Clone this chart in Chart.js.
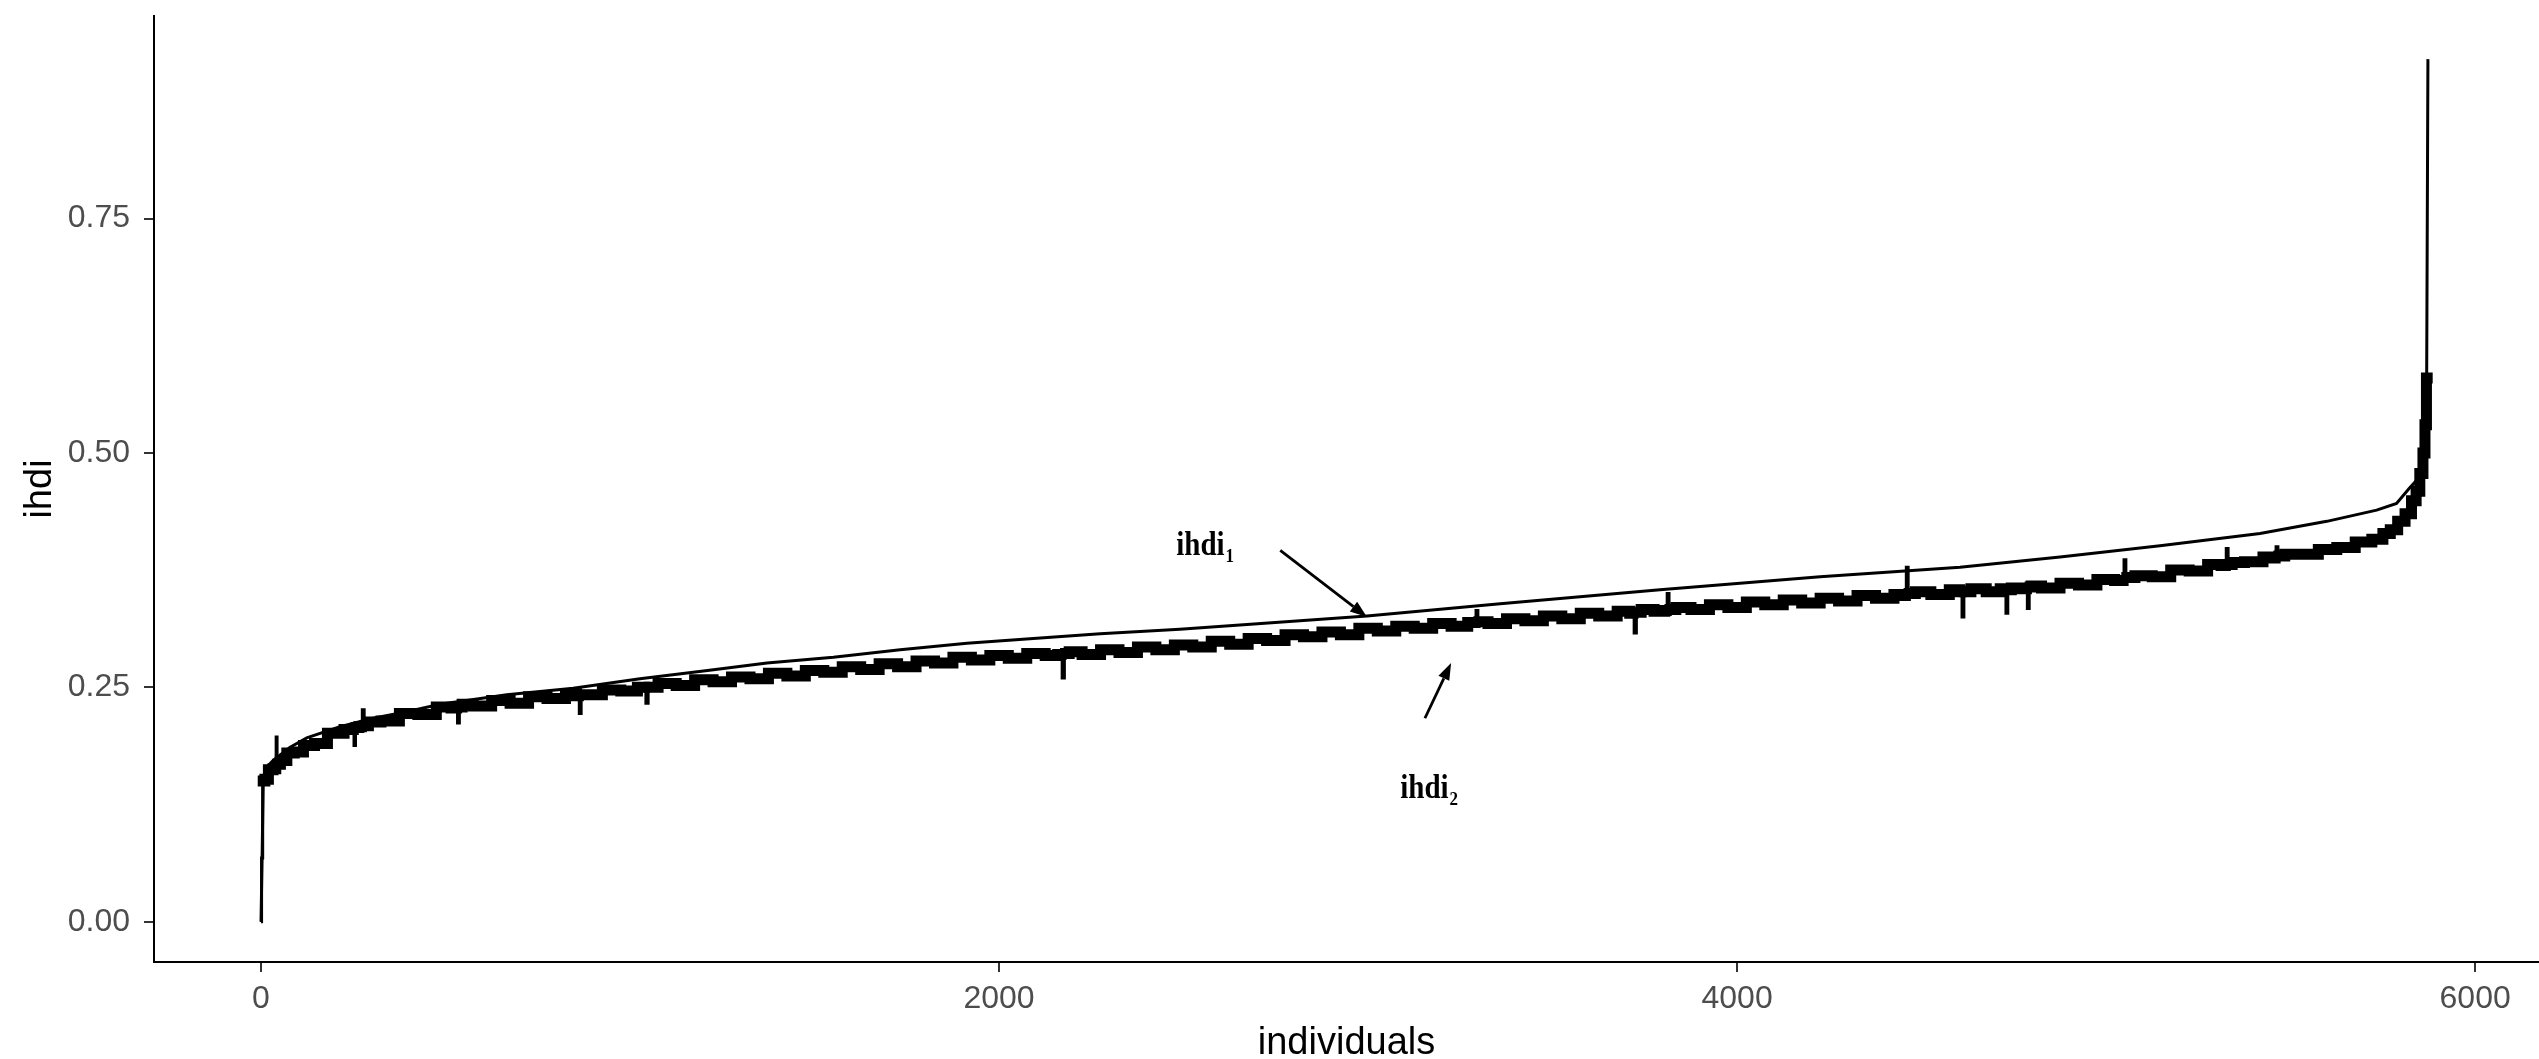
<!DOCTYPE html>
<html>
    <style>
        body {
            background-color: white;
            margin: 0;
            padding: 0;
        }
        #chart_box {
            width: 2539px;
            height: 1059px;
        }
    </style>
    <script src="https://cdn.jsdelivr.net/npm/chart.js"></script>
    <body>
        <div id="chart_box">
            <canvas id="myChart" width="2539" height="1059"></canvas>
        </div>
    </body>
    <script>
        // ihdi_1: upper, smooth curve (individuals sorted)
        const ihdi1X = [0, 3, 6, 16, 33, 79, 124, 214, 304, 395, 485, 666, 846, 1027, 1210,
            1371, 1551, 1732, 1913, 2093, 2274, 2490, 2997, 3358, 3791, 4225, 4604, 4875,
            5146, 5417, 5598, 5733, 5787, 5821, 5842, 5860, 5868, 5872];
        const ihdi1Y = [0.000, 0.070, 0.150, 0.165, 0.172, 0.186, 0.196, 0.208, 0.217, 0.224,
            0.232, 0.242, 0.249, 0.259, 0.268, 0.276, 0.282, 0.290, 0.297, 0.302, 0.307,
            0.312, 0.326, 0.339, 0.354, 0.368, 0.378, 0.389, 0.401, 0.414, 0.427, 0.439,
            0.446, 0.462, 0.471, 0.490, 0.520, 0.920];

        // ihdi_2: lower, noisy band
        const ihdi2X = [0, 3, 6, 15, 25, 40, 42, 45, 60, 80, 100, 130, 160, 200, 250, 254, 258,
            272, 277, 282, 300, 350, 400, 450, 500, 530, 535, 540, 550, 600, 650, 700, 750,
            800, 850, 860, 865, 870, 900, 950, 1000, 1040, 1046, 1052, 1100, 1150, 1200, 1250,
            1300, 1350, 1400, 1450, 1500, 1550, 1600, 1650, 1700, 1750, 1800, 1850, 1900, 1950,
            2000, 2050, 2100, 2150, 2168, 2174, 2180, 2200, 2250, 2300, 2350, 2400, 2450, 2500,
            2550, 2600, 2650, 2700, 2750, 2800, 2850, 2900, 2950, 3000, 3050, 3100, 3150, 3200,
            3250, 3290, 3295, 3300, 3350, 3400, 3450, 3500, 3550, 3600, 3650, 3700, 3718, 3724,
            3730, 3750, 3800, 3808, 3813, 3818, 3850, 3900, 3950, 4000, 4050, 4100, 4150, 4200,
            4250, 4300, 4350, 4400, 4450, 4456, 4461, 4466, 4500, 4550, 4600, 4607, 4612, 4617,
            4650, 4700, 4726, 4731, 4736, 4750, 4784, 4789, 4794, 4800, 4850, 4900, 4950, 5000,
            5046, 5051, 5056, 5100, 5150, 5200, 5250, 5300, 5323, 5328, 5333, 5350, 5400, 5450,
            5458, 5463, 5468, 5500, 5550, 5600, 5650, 5700, 5740, 5760, 5780, 5800, 5820, 5835,
            5845, 5855, 5862, 5866, 5870];
        const ihdi2Y = [0.000, 0.068, 0.150, 0.152, 0.162, 0.163, 0.197, 0.168, 0.172, 0.180,
            0.181, 0.188, 0.190, 0.201, 0.205, 0.188, 0.207, 0.208, 0.226, 0.209, 0.213, 0.214,
            0.222, 0.221, 0.229, 0.228, 0.212, 0.229, 0.232, 0.230, 0.236, 0.233, 0.240, 0.238,
            0.243, 0.241, 0.222, 0.242, 0.242, 0.247, 0.246, 0.250, 0.233, 0.250, 0.254, 0.252,
            0.258, 0.256, 0.261, 0.259, 0.265, 0.262, 0.268, 0.266, 0.272, 0.269, 0.275, 0.272,
            0.278, 0.276, 0.282, 0.279, 0.284, 0.281, 0.286, 0.284, 0.285, 0.260, 0.286, 0.288,
            0.285, 0.290, 0.287, 0.293, 0.290, 0.295, 0.293, 0.299, 0.296, 0.302, 0.300, 0.306,
            0.304, 0.309, 0.306, 0.313, 0.310, 0.315, 0.313, 0.318, 0.315, 0.319, 0.332, 0.320,
            0.318, 0.323, 0.321, 0.326, 0.323, 0.329, 0.326, 0.331, 0.329, 0.308, 0.330, 0.333,
            0.331, 0.332, 0.350, 0.333, 0.335, 0.333, 0.338, 0.335, 0.341, 0.338, 0.343, 0.340,
            0.345, 0.342, 0.348, 0.345, 0.349, 0.348, 0.378, 0.350, 0.352, 0.349, 0.354, 0.352,
            0.325, 0.352, 0.355, 0.352, 0.355, 0.329, 0.354, 0.356, 0.355, 0.334, 0.357, 0.358,
            0.356, 0.361, 0.359, 0.365, 0.364, 0.386, 0.367, 0.369, 0.368, 0.375, 0.374, 0.381,
            0.380, 0.398, 0.381, 0.383, 0.384, 0.389, 0.388, 0.400, 0.390, 0.392, 0.392, 0.397,
            0.399, 0.405, 0.408, 0.414, 0.418, 0.427, 0.435, 0.449, 0.459, 0.478, 0.500, 0.530,
            0.580];

        const xTicks = [0, 2000, 4000, 6000];
        const yTicks = [0, 0.25, 0.5, 0.75];

        // text labels with arrows, anchored in data units
        const notes = [
            { text: 'ihdi', sub: '1', at: [2480, 0.391], from: [2762, 0.396], to: [2997, 0.325] },
            { text: 'ihdi', sub: '2', at: [3087, 0.132], from: [3154, 0.217], to: [3225, 0.276] }
        ];

        function toPoints(xs, ys) {
            return xs.map((x, i) => ({ x: x, y: ys[i] }));
        }

        // a point that sticks out the same way from both neighbours is a single spike, drawn thin
        function isSpike(i) {
            if (i < 1 || i >= ihdi2Y.length - 1) return false;
            const a = ihdi2Y[i] - ihdi2Y[i - 1], b = ihdi2Y[i] - ihdi2Y[i + 1];
            return a * b > 0 && Math.abs(a) > 0.01 && Math.abs(b) > 0.01;
        }
        function thinSeg(ctx) {
            // the first rise from zero is a thin line too
            if (ctx.p0DataIndex < 2) return true;
            return isSpike(ctx.p0DataIndex) || isSpike(ctx.p1DataIndex);
        }

        const notePlugin = {
            id: 'notes',
            afterDatasetsDraw(chart) {
                const ctx = chart.ctx;
                const sx = chart.scales.x, sy = chart.scales.y;
                ctx.save();
                ctx.fillStyle = '#000';
                ctx.strokeStyle = '#000';
                notes.forEach(n => {
                    // label
                    const tx = sx.getPixelForValue(n.at[0]);
                    const ty = sy.getPixelForValue(n.at[1]);
                    ctx.save();
                    ctx.translate(tx, ty);
                    ctx.scale(1, 1.17);
                    ctx.textBaseline = 'alphabetic';
                    ctx.textAlign = 'left';
                    ctx.font = 'bold 29px "Liberation Serif", "Times New Roman", serif';
                    ctx.fillText(n.text, 0, 0);
                    const w = ctx.measureText(n.text).width;
                    ctx.font = 'bold 17px "Liberation Serif", "Times New Roman", serif';
                    ctx.fillText(n.sub, w + 1, 6);
                    ctx.restore();

                    // arrow
                    const x0 = sx.getPixelForValue(n.from[0]), y0 = sy.getPixelForValue(n.from[1]);
                    const x1 = sx.getPixelForValue(n.to[0]), y1 = sy.getPixelForValue(n.to[1]);
                    const ang = Math.atan2(y1 - y0, x1 - x0);
                    const headLen = 17, headHalf = 6;
                    const bx = x1 - headLen * Math.cos(ang), by = y1 - headLen * Math.sin(ang);
                    ctx.lineWidth = 2.8;
                    ctx.beginPath();
                    ctx.moveTo(x0, y0);
                    ctx.lineTo(bx, by);
                    ctx.stroke();
                    ctx.beginPath();
                    ctx.moveTo(x1, y1);
                    ctx.lineTo(bx + headHalf * Math.sin(ang), by - headHalf * Math.cos(ang));
                    ctx.lineTo(bx - headHalf * Math.sin(ang), by + headHalf * Math.cos(ang));
                    ctx.closePath();
                    ctx.fill();
                });
                ctx.restore();
            }
        };

        const tickFont = { family: '"Liberation Sans", Arial, sans-serif', size: 32 };
        const titleFont = { family: '"Liberation Sans", Arial, sans-serif', size: 38, lineHeight: 0.8 };

        const config = {
            type: 'line',
            data: {
                datasets: [
                    {
                        label: 'ihdi2',
                        data: toPoints(ihdi2X, ihdi2Y),
                        borderColor: '#000',
                        borderWidth: 11,
                        borderCapStyle: 'square',
                        stepped: 'middle',
                        pointRadius: 0,
                        fill: false,
                        segment: {
                            borderWidth: ctx => thinSeg(ctx) ? 3 : 11,
                            borderCapStyle: ctx => thinSeg(ctx) ? 'butt' : 'square'
                        }
                    },
                    {
                        label: 'ihdi1',
                        data: toPoints(ihdi1X, ihdi1Y),
                        borderColor: '#000',
                        borderWidth: 3,
                        tension: 0,
                        pointRadius: 0,
                        fill: false
                    }
                ]
            },
            options: {
                responsive: false,
                animation: false,
                devicePixelRatio: 1,
                layout: { padding: { top: 16, right: 0, left: 0, bottom: 0 } },
                plugins: {
                    legend: { display: false },
                    tooltip: { enabled: false }
                },
                scales: {
                    x: {
                        type: 'linear',
                        min: -290,
                        max: 6173,
                        afterBuildTicks: s => { s.ticks = xTicks.map(v => ({ value: v })); },
                        afterFit: s => { s.height = 97; s.paddingLeft = 0; s.paddingRight = 0; },
                        ticks: {
                            color: '#4D4D4D',
                            font: tickFont,
                            padding: 8,
                            maxRotation: 0,
                            callback: v => String(v)
                        },
                        grid: {
                            drawOnChartArea: false,
                            tickLength: 10,
                            color: '#333333',
                            lineWidth: 2
                        },
                        border: { display: true, color: '#000', width: 2 },
                        title: {
                            display: true,
                            text: 'individuals',
                            color: '#000',
                            font: titleFont,
                            padding: { top: 0, bottom: 0 }
                        }
                    },
                    y: {
                        type: 'linear',
                        min: -0.043,
                        max: 0.966,
                        afterBuildTicks: s => { s.ticks = yTicks.map(v => ({ value: v })); },
                        afterFit: s => { s.width = 154; s.paddingTop = 0; s.paddingBottom = 0; },
                        ticks: {
                            color: '#4D4D4D',
                            font: tickFont,
                            padding: 14,
                            callback: v => Number(v).toFixed(2)
                        },
                        grid: {
                            drawOnChartArea: false,
                            tickLength: 10,
                            color: '#333333',
                            lineWidth: 2
                        },
                        border: { display: true, color: '#000', width: 2 },
                        title: {
                            display: true,
                            text: 'ihdi',
                            color: '#000',
                            font: titleFont,
                            padding: { top: 25, bottom: 0 }
                        }
                    }
                }
            },
            plugins: [notePlugin]
        };

        const myChart = new Chart(document.getElementById('myChart'), config);
    </script>
</html>
